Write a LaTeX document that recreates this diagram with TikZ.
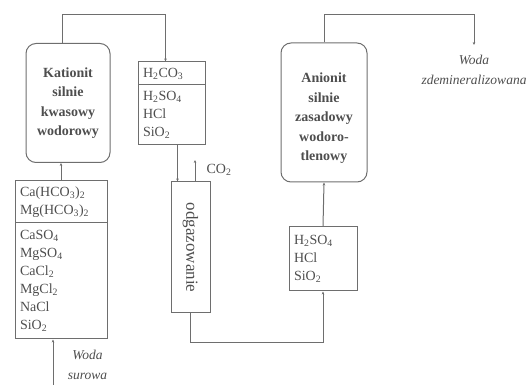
\documentclass[tikz,border=0pt]{standalone}
\usepackage{fontspec}
\setmainfont{Liberation Serif}
\usepackage{xcolor}
\usetikzlibrary{positioning,arrows.meta,calc}

\definecolor{linegray}{HTML}{6E6E6E}
\definecolor{textgray}{HTML}{4E4E4E}

\begin{document}
\begin{tikzpicture}[
    x=1pt, y=-1pt,
    >={Stealth[length=3pt,width=2.6pt]},
    text=textgray,
    resin/.style={
        draw=linegray,
        rounded corners=10pt,
        line width=1pt,
        inner sep=0pt
    },
    resintxt/.style={
        align=center,
        inner sep=0pt,
        font=\bfseries\fontsize{14}{19.5}\selectfont
    },
    lst/.style={
        draw=linegray,
        line width=1pt,
        align=left,
        inner xsep=5pt,
        inner ysep=0pt,
        font=\fontsize{14}{18}\selectfont
    },
    lbl/.style={
        align=center,
        inner sep=0pt,
        font=\itshape\fontsize{13.5}{20}\selectfont
    },
    arr/.style={->, draw=linegray, line width=1pt}
]
\useasboundingbox (0,0) rectangle (531,385);

% cation exchanger and raw water
\node[resin, minimum width=84pt, minimum height=119pt] (kat) at (68,103) {};
\node[resintxt] (katt) at (kat.center) {Kationit\\silnie\\kwasowy\\wodorowy};

\node[lst, text width=82pt, minimum height=42pt] (raw1) at (61,202)
{Ca(HCO\textsubscript{3})\textsubscript{2}\\Mg(HCO\textsubscript{3})\textsubscript{2}};
\node[lst, text width=82pt, minimum height=116pt] (raw2) at (61,281)
{CaSO\textsubscript{4}\\MgSO\textsubscript{4}\\CaCl\textsubscript{2}\\MgCl\textsubscript{2}\\NaCl\\SiO\textsubscript{2}};

\coordinate (inpt) at (53,385);
\node[lbl] (raw) at (87.5,365) {Woda\\surowa};

% after cation exchanger
\node[lst, text width=57pt, minimum height=23pt] (top1) at (171.5,73.5)
{H\textsubscript{2}CO\textsubscript{3}};
\node[lst, text width=57pt, minimum height=60pt] (top2) at (171.5,115)
{H\textsubscript{2}SO\textsubscript{4}\\HCl\\SiO\textsubscript{2}};

% degassing
\node[draw=linegray, line width=1pt, minimum width=39pt, minimum height=131pt,
      inner sep=0pt] (odg) at (190.5,247.5) {};
\node[rotate=-90, inner sep=0pt, font=\fontsize{17}{18}\selectfont] (odgt) at (odg.center) {odgazowanie};
\coordinate (co2end) at (195,160);
\node[inner sep=0pt, font=\fontsize{14}{18}\selectfont] (co2) at (219,170) {CO\textsubscript{2}};

% anion exchanger
\node[lst, text width=58pt, minimum height=64pt] (acid) at (323,259)
{H\textsubscript{2}SO\textsubscript{4}\\HCl\\SiO\textsubscript{2}};
\node[resin, minimum width=86pt, minimum height=139pt] (ani) at (324,112.5) {};
\node[resintxt] (anit) at ([yshift=-6pt]ani.center) {Anionit\\silnie\\zasadowy\\wodoro-\\tlenowy};

\coordinate (outpt) at (474,45);
\node[lbl] (out) at (474,70) {Woda\\zdemineralizowana};

% flows
\draw[arr] (inpt) -- ([xshift=-8pt]raw2.south);
\draw[arr] (raw1.north) -- (raw1.north |- kat.south);
\draw[arr] ([xshift=-6pt]kat.north) -- ++(0,-28) -| ([xshift=-6pt]top1.north);
\draw[arr] ([xshift=6pt]top2.south) -- ([xshift=6pt]top2.south |- odg.north);
\draw[arr] (co2end |- odg.north) -- (co2end);
\draw[arr] (odg.south) -- ++(0,29) -| (acid.south);
\draw[arr] (acid.north) -- (ani.south);
\draw[arr] (ani.north) -- ++(0,-28) -| (outpt);

\end{tikzpicture}
\end{document}
